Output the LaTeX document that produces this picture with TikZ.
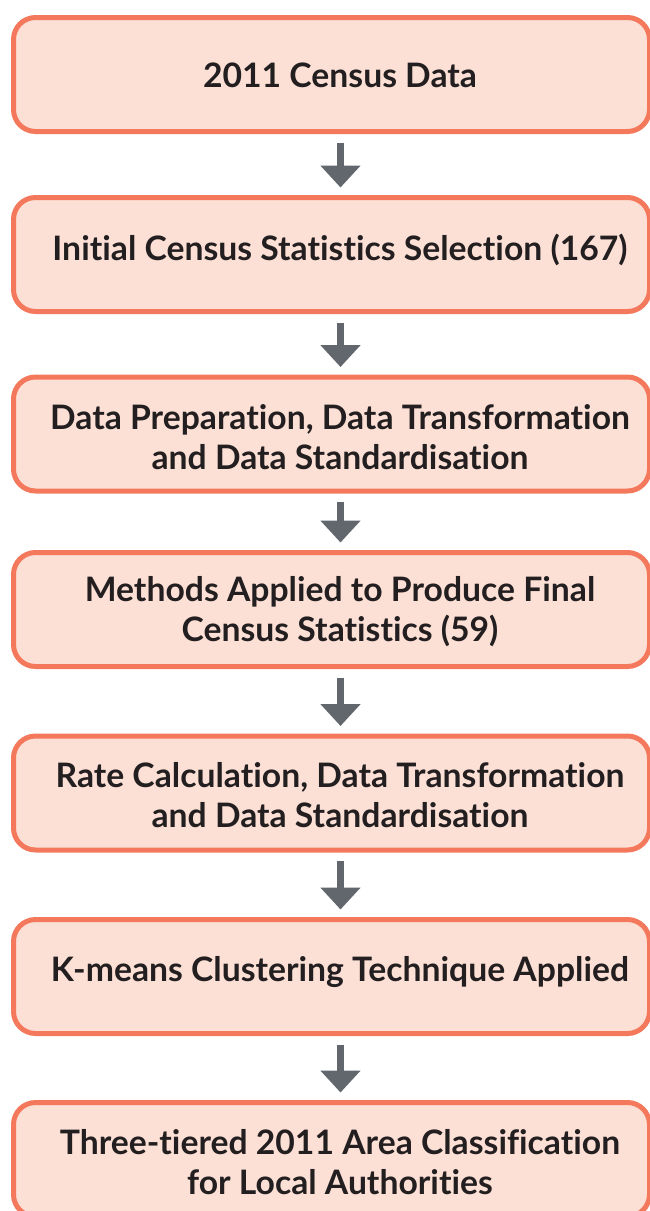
\documentclass[tikz,border=0pt]{standalone}
\usepackage{fontspec}
\setmainfont{Lato}[Ligatures={NoCommon}]
\usetikzlibrary{arrows.meta}
\definecolor{boxfill}{HTML}{FCDFD5}
\definecolor{boxline}{HTML}{F4795C}
\definecolor{arrgray}{HTML}{62676E}
\definecolor{txtcol}{HTML}{231F20}
\tikzset{
  box/.style={draw=boxline, fill=boxfill, line width=5pt, rounded corners=22pt,
    minimum width=636pt, minimum height=114pt, inner sep=0pt},
  txt/.style={text=txtcol, font=\fontsize{33.7}{40}\selectfont\bfseries, align=center, inner sep=0pt},
  arr/.style={draw=arrgray, line width=7pt, -{Triangle[width=39pt,length=22pt]}},
}
\begin{document}
\begin{tikzpicture}[x=1pt,y=1pt]
\useasboundingbox (0,0) rectangle (650,-1211);
\node[box] (b1) at (331.5,-74.5) {};
\node[box] (b2) at (331.5,-254.5) {};
\node[box] (b3) at (331.5,-434) {};
\node[box] (b4) at (331.5,-609.5) {};
\node[box] (b5) at (331.5,-793) {};
\node[box] (b6) at (331.5,-976.5) {};
\node[box] (b7) at (331.5,-1159.5) {};
\node[txt] (t1) at (340,-75) {2011 Census Data};
\node[txt] (t2) at (340,-250) {Initial Census Statistics Selection (167)};
\node[txt] (t3) at (340,-437) {Data Preparation, Data Transformation\\and Data Standardisation};
\node[txt] (t4) at (340,-612) {Methods Applied to Produce Final\\Census Statistics (59)};
\node[txt] (t5) at (340,-795) {Rate Calculation, Data Transformation\\and Data Standardisation};
\node[txt] (t6) at (340,-972) {K-means Clustering Technique Applied};
\node[txt] (t7) at (340,-1162) {Three-tiered 2011 Area Classification\\for Local Authorities};
\foreach \a/\b in {b1/b2,b2/b3,b3/b4,b4/b5,b5/b6,b6/b7}{
  \draw[arr] ([xshift=9pt,yshift=-8.5pt]\a.south) -- ([xshift=9pt,yshift=7.5pt]\b.north);
}
\end{tikzpicture}
\end{document}
